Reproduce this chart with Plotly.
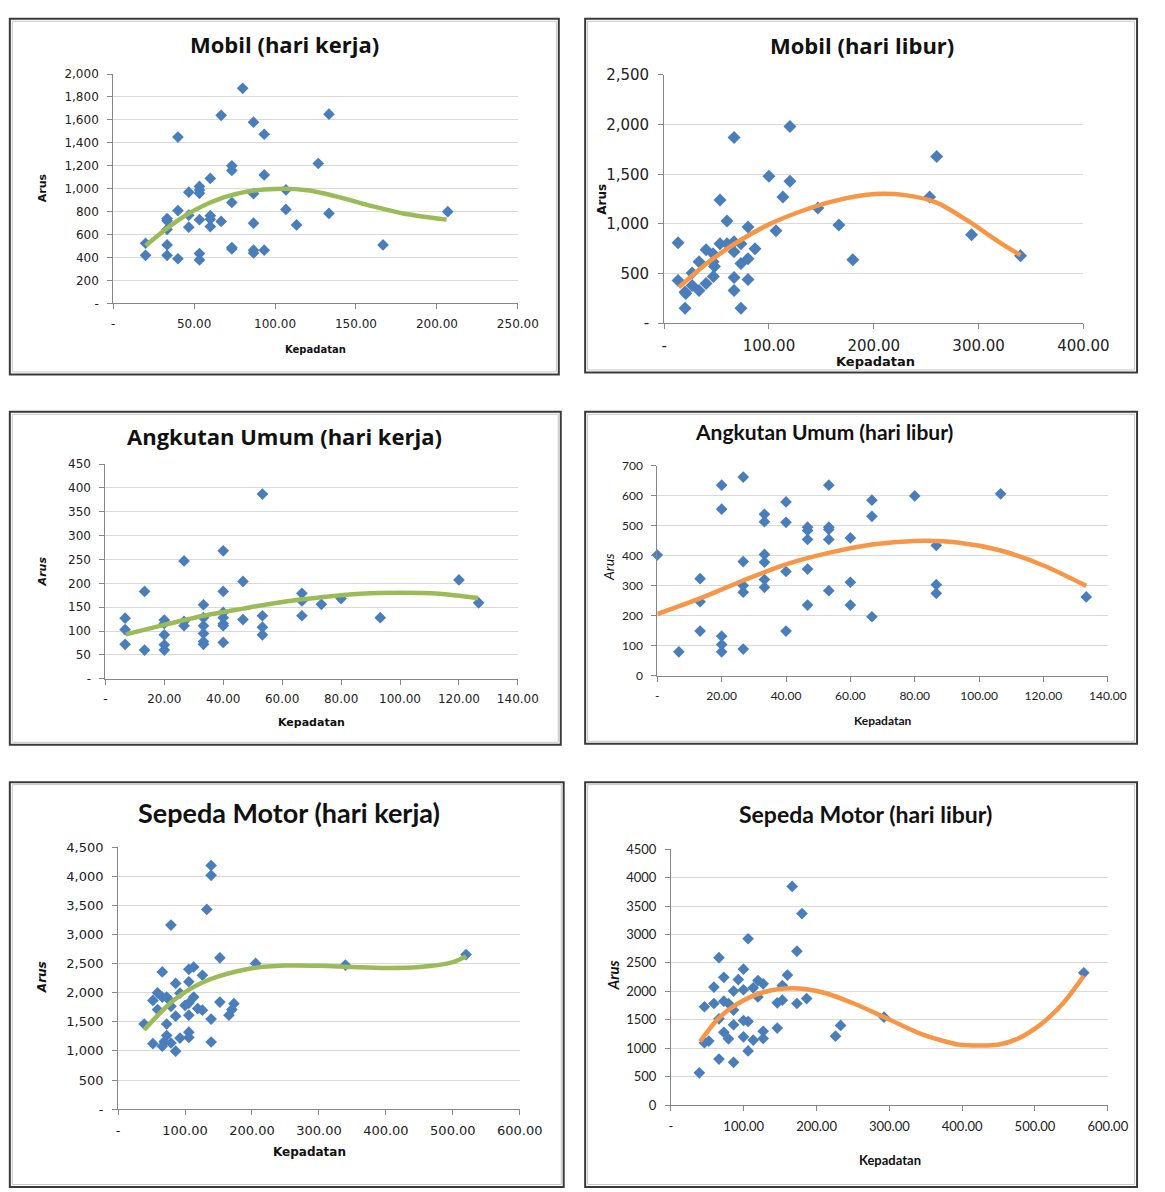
import plotly.graph_objects as go

W, H = 1165, 1192

# ---------------- DATA ----------------
# Panel 1: Mobil (hari kerja)
p1_x = [20, 20, 33.3, 33.3, 33.3, 33.3, 33.3, 40, 40, 40, 46.7, 46.7, 46.7, 53.3, 53.3, 53.3, 53.3, 53.3, 53.3,
        60, 60, 60, 60, 66.7, 66.7, 73.3, 73.3, 73.3, 73.3, 73.3, 80, 86.7, 86.7, 86.7, 86.7, 86.7,
        93.3, 93.3, 93.3, 106.7, 106.7, 113.3, 126.7, 133.3, 133.3, 166.7, 206.7]
p1_y = [525, 420, 740, 720, 645, 510, 420, 1450, 810, 390, 970, 770, 665, 1020, 990, 960, 730, 435, 380,
        1090, 765, 735, 670, 1640, 715, 1200, 1160, 880, 488, 475, 1875, 1580, 957, 700, 465, 440,
        1475, 1120, 465, 990, 820, 685, 1220, 1650, 785, 510, 800]
p1_fit_x = [20, 40, 60, 80, 100, 120, 140, 160, 180, 206]
p1_fit_y = [505, 725, 880, 968, 998, 986, 925, 848, 782, 731]

# Panel 2: Mobil (hari libur)
p2_x = [13.3, 13.3, 20, 20.7, 20, 26.7, 26.7, 33.3, 33.3, 40, 40, 46.7, 46.7, 48, 47, 53.3, 53.3, 60, 60,
        66.7, 66.7, 66.7, 66.7, 66.7, 73.3, 73.3, 73.3, 80, 80, 80, 86.7, 100, 106.7, 113.3, 120, 120,
        146.7, 166.7, 180, 253.3, 260, 293.3, 340]
p2_y = [810, 430, 314, 298, 150, 505, 380, 620, 330, 740, 400, 700, 620, 570, 470, 1240, 800, 1030, 800,
        1870, 820, 720, 460, 330, 800, 600, 150, 970, 650, 440, 750, 1480, 930, 1270, 1980, 1430,
        1160, 990, 640, 1270, 1680, 890, 680]
p2_fit_x = [14, 40, 70, 100, 130, 160, 200, 230, 260, 290, 320, 340]
p2_fit_y = [360, 596, 818, 995, 1125, 1225, 1300, 1290, 1215, 1030, 815, 685]

# Panel 3: Angkutan Umum (hari kerja)
p3_x = [6.7, 6.7, 6.7, 13.3, 13.3, 20, 20, 20, 20, 20, 26.7, 26.7, 26.7, 33.3, 33.3, 33.3, 33.3, 33.3, 33.3,
        40, 40, 40, 40, 40, 40, 40, 46.7, 46.7, 53.3, 53.3, 53.3, 53.3, 66.7, 66.7, 66.7, 73.3, 80, 93.3,
        120, 126.7]
p3_y = [127, 103, 72, 183, 60, 123, 116, 92, 71, 60, 247, 120, 111, 155, 128, 111, 95, 78, 72,
        268, 183, 139, 128, 115, 111, 76, 204, 124, 387, 132, 108, 92, 179, 163, 132, 156, 168, 128,
        207, 159]
p3_fit_x = [6.9, 20, 33.3, 46.7, 60, 73.3, 86.7, 100, 113.3, 126.5]
p3_fit_y = [93, 113, 132, 147, 161, 171, 178, 180, 178, 169]

# Panel 4: Angkutan Umum (hari libur)
p4_x = [0, 6.7, 13.3, 13.3, 13.3, 20, 20, 20, 20, 20, 26.7, 26.7, 26.7, 26.7, 26.7,
        33.3, 33.3, 33.3, 33.3, 33.3, 33.3, 40, 40, 40, 40, 46.7, 46.7, 46.7, 46.7, 46.7,
        53.3, 53.3, 53.3, 53.3, 53.3, 60, 60, 60, 66.7, 66.7, 66.7, 80, 86.7, 86.7, 86.7, 106.7, 133.3]
p4_y = [403, 80, 324, 247, 149, 636, 556, 132, 104, 80, 663, 381, 301, 279, 89,
        539, 514, 405, 379, 321, 295, 580, 512, 348, 149, 496, 485, 455, 356, 236,
        636, 496, 488, 455, 284, 460, 312, 236, 586, 532, 197, 600, 435, 304, 275, 607, 263]
p4_fit_x = [0, 13.3, 26.7, 40, 53.3, 66.7, 80, 93.3, 106.7, 120, 133.3]
p4_fit_y = [206, 258, 318, 372, 410, 438, 450, 445, 418, 368, 300]

# Panel 5: Sepeda Motor (hari kerja)
p5_x = [39, 52, 52, 59, 59, 66, 66, 66, 69, 72.6, 72.6, 72.6, 75.5, 79, 79, 79, 86, 86, 86, 92.5, 92.5,
        100, 105.7, 105.7, 105.7, 105.7, 105.7, 105.7, 113, 113, 119, 126, 126, 132.5, 139, 139, 139, 139,
        152, 152, 165.6, 170, 173, 205.5, 339.5, 519.7]
p5_y = [1462, 1867, 1125, 1997, 1710, 2357, 1924, 1080, 1160, 1924, 1462, 1265, 1884, 3161, 1766, 1136,
        2160, 1597, 995, 1991, 1220, 1783, 2402, 2188, 1822, 1614, 1322, 1232, 2441, 1924, 1727, 2300, 1699,
        3431, 4185, 4016, 1547, 1153, 2599, 1839, 1614, 1710, 1811, 2503, 2475, 2655]
p5_fit_x = [39, 60, 80, 100, 125, 150, 200, 250, 300, 350, 400, 450, 500, 520]
p5_fit_y = [1361, 1620, 1840, 2008, 2170, 2280, 2420, 2465, 2462, 2440, 2424, 2440, 2526, 2627]

# Panel 6: Sepeda Motor (hari libur)
p6_x = [39, 46, 46, 52, 59, 59, 66, 66, 66, 72.6, 72.6, 72.6, 79, 79, 86, 86, 86, 86, 92.5,
        99.6, 99.6, 99.6, 99.6, 106, 106, 106, 113, 113, 119.5, 119.5, 126.7, 126.7, 126.7,
        146, 146, 153, 153, 160, 166.5, 173, 173, 180, 186.4, 226, 233, 292.7, 567]
p6_y = [569, 1730, 1098, 1126, 2075, 1787, 2592, 1517, 810, 2247, 1828, 1282, 1787, 1167, 2006, 1672,
        1414, 753, 2207, 2391, 2029, 1488, 1201, 2925, 1471, 954, 2063, 1144, 2190, 1902, 2132, 1299, 1172,
        1356, 1799, 2103, 1845, 2287, 3845, 2707, 1787, 3368, 1874, 1213, 1402, 1546, 2327]
p6_fit_x = [40, 65, 91.5, 127, 167, 207.6, 252, 297, 341.5, 377, 397, 449, 475, 506.6, 538, 567]
p6_fit_y = [1120, 1523, 1783, 1985, 2054, 1985, 1783, 1523, 1263, 1120, 1061, 1061, 1160, 1407, 1783, 2273]

# Tick labels
p1_xticks = [0, 50, 100, 150, 200, 250]
p1_xtext = ["-", "50.00", "100.00", "150.00", "200.00", "250.00"]
p1_yticks = [0, 200, 400, 600, 800, 1000, 1200, 1400, 1600, 1800, 2000]
p1_ytext = ["-", "200", "400", "600", "800", "1,000", "1,200", "1,400", "1,600", "1,800", "2,000"]

p2_xticks = [0, 100, 200, 300, 400]
p2_xtext = ["-", "100.00", "200.00", "300.00", "400.00"]
p2_yticks = [0, 500, 1000, 1500, 2000, 2500]
p2_ytext = ["-", "500", "1,000", "1,500", "2,000", "2,500"]

p3_xticks = [0, 20, 40, 60, 80, 100, 120, 140]
p3_xtext = ["-", "20.00", "40.00", "60.00", "80.00", "100.00", "120.00", "140.00"]
p3_yticks = [0, 50, 100, 150, 200, 250, 300, 350, 400, 450]
p3_ytext = ["-", "50", "100", "150", "200", "250", "300", "350", "400", "450"]

p4_xticks = [0, 20, 40, 60, 80, 100, 120, 140]
p4_xtext = ["-", "20.00", "40.00", "60.00", "80.00", "100.00", "120.00", "140.00"]
p4_yticks = [0, 100, 200, 300, 400, 500, 600, 700]
p4_ytext = ["0", "100", "200", "300", "400", "500", "600", "700"]

p5_xticks = [0, 100, 200, 300, 400, 500, 600]
p5_xtext = ["-", "100.00", "200.00", "300.00", "400.00", "500.00", "600.00"]
p5_yticks = [0, 500, 1000, 1500, 2000, 2500, 3000, 3500, 4000, 4500]
p5_ytext = ["-", "500", "1,000", "1,500", "2,000", "2,500", "3,000", "3,500", "4,000", "4,500"]

p6_xticks = [0, 100, 200, 300, 400, 500, 600]
p6_xtext = ["-", "100.00", "200.00", "300.00", "400.00", "500.00", "600.00"]
p6_yticks = [0, 500, 1000, 1500, 2000, 2500, 3000, 3500, 4000, 4500]
p6_ytext = ["0", "500", "1000", "1500", "2000", "2500", "3000", "3500", "4000", "4500"]

titles = ["Mobil (hari kerja)", "Mobil (hari libur)", "Angkutan Umum (hari kerja)",
          "Angkutan Umum (hari libur)", "Sepeda Motor (hari kerja)", "Sepeda Motor (hari libur)"]

# ---------------- STYLE ----------------
BLUE = "#4A7EBB"
GREEN = "#9BBB59"
ORANGE = "#F79646"
GRID = "#D9D9D9"
AXIS = "#868686"
VERD = "DejaVu Sans"
CAL = "Lato"
TF_VERD = "Open Sans"

panels = [
    dict(x=p1_x, y=p1_y, fx=p1_fit_x, fy=p1_fit_y, lc=GREEN, px=(113, 528), py=(66, 299),
         xr=[0, 250], xt=p1_xticks, xtt=p1_xtext, yr=[0, 2000], yt=p1_yticks, ytt=p1_ytext,
         tf=dict(family=VERD, size=12, color="#222"), ms=9,
         tpos=(289, 36), tfont=dict(family=TF_VERD, size=22, color="#111"),
         xl=(320, 346), xlf=dict(family=VERD, size=10, color="#111"),
         yl=(40, 182), ylf=dict(family=VERD, size=11, color="#111"), ylab="<b>Arus</b>",
         frame=(7, 10, 570, 371)),
    dict(x=p2_x, y=p2_y, fx=p2_fit_x, fy=p2_fit_y, lc=ORANGE, px=(678, 1108), py=(67, 319),
         xr=[0, 400], xt=p2_xticks, xtt=p2_xtext, yr=[0, 2500], yt=p2_yticks, ytt=p2_ytext,
         tf=dict(family=VERD, size=15, color="#222"), ms=10,
         tpos=(881, 37), tfont=dict(family=TF_VERD, size=22, color="#111"),
         xl=(895, 358), xlf=dict(family=VERD, size=13, color="#111"),
         yl=(614, 193), ylf=dict(family=VERD, size=12, color="#111"), ylab="<b>Arus</b>",
         frame=(597, 10, 1163, 369)),
    dict(x=p3_x, y=p3_y, fx=p3_fit_x, fy=p3_fit_y, lc=GREEN, px=(105, 528), py=(462, 680),
         xr=[0, 140], xt=p3_xticks, xtt=p3_xtext, yr=[0, 450], yt=p3_yticks, ytt=p3_ytext,
         tf=dict(family=VERD, size=12, color="#222"), ms=9,
         tpos=(289, 434), tfont=dict(family=TF_VERD, size=22, color="#111"),
         xl=(316, 724), xlf=dict(family=VERD, size=11, color="#111"),
         yl=(40, 571), ylf=dict(family=VERD, size=11, color="#111"), ylab="<b><i>Arus</i></b>",
         frame=(7, 409, 572, 747)),
    dict(x=p4_x, y=p4_y, fx=p4_fit_x, fy=p4_fit_y, lc=ORANGE, px=(671, 1133), py=(464, 677),
         xr=[0, 140], xt=p4_xticks, xtt=p4_xtext, yr=[0, 700], yt=p4_yticks, ytt=p4_ytext,
         tf=dict(family=CAL, size=12, color="#222"), ms=9,
         tpos=(842, 429), tfont=dict(family=CAL, size=21, color="#111"),
         xl=(902, 722), xlf=dict(family=CAL, size=12, color="#111"),
         yl=(621, 567), ylf=dict(family=CAL, size=14, color="#111"), ylab="<i>Arus</i>",
         frame=(597, 409, 1163, 746)),
    dict(x=p5_x, y=p5_y, fx=p5_fit_x, fy=p5_fit_y, lc=GREEN, px=(118, 530), py=(851, 1117),
         xr=[0, 600], xt=p5_xticks, xtt=p5_xtext, yr=[0, 4500], yt=p5_yticks, ytt=p5_ytext,
         tf=dict(family=VERD, size=13, color="#222"), ms=9,
         tpos=(293, 816), tfont=dict(family=CAL, size=27, color="#111"),
         xl=(314, 1161), xlf=dict(family=VERD, size=12, color="#111"),
         yl=(40, 983), ylf=dict(family=VERD, size=12, color="#111"), ylab="<b><i>Arus</i></b>",
         frame=(7, 785, 575, 1196)),
    dict(x=p6_x, y=p6_y, fx=p6_fit_x, fy=p6_fit_y, lc=ORANGE, px=(685, 1133), py=(853, 1113),
         xr=[0, 600], xt=p6_xticks, xtt=p6_xtext, yr=[0, 4500], yt=p6_yticks, ytt=p6_ytext,
         tf=dict(family=CAL, size=13, color="#222"), ms=9,
         tpos=(885, 817), tfont=dict(family=CAL, size=23, color="#111"),
         xl=(910, 1169), xlf=dict(family=CAL, size=13, color="#111"),
         yl=(626, 981), ylf=dict(family=CAL, size=15, color="#111"), ylab="<b><i>Arus</i></b>",
         frame=(597, 785, 1163, 1196)),
]

fig = go.Figure()
layout = dict(width=W, height=H, margin=dict(l=0, r=0, t=0, b=0),
              paper_bgcolor="white", plot_bgcolor="white", showlegend=False)
shapes = []
annotations = []


def px2x(v):
    return v / W


def px2y(v):
    return 1 - v / H


for i, p in enumerate(panels, start=1):
    sfx = "" if i == 1 else str(i)
    xa, ya = "x" + sfx, "y" + sfx
    fig.add_trace(go.Scatter(x=p["x"], y=p["y"], mode="markers", xaxis=xa, yaxis=ya,
                             marker=dict(symbol="diamond", size=p["ms"], color=BLUE,
                                         line=dict(width=0)),
                             cliponaxis=False, hoverinfo="skip"))
    fig.add_trace(go.Scatter(x=p["fx"], y=p["fy"], mode="lines", xaxis=xa, yaxis=ya,
                             line=dict(color=p["lc"], width=4.5, shape="spline", smoothing=0.8),
                             hoverinfo="skip"))
    layout["xaxis" + sfx] = dict(
        domain=[px2x(p["px"][0]), px2x(p["px"][1])], anchor=ya, range=p["xr"],
        tickmode="array", tickvals=p["xt"], ticktext=p["xtt"], showgrid=False,
        showline=True, linecolor=AXIS, linewidth=1, ticks="outside", ticklen=5,
        tickcolor=AXIS, tickfont=p["tf"], zeroline=False, fixedrange=True,
        ticklabelstandoff=4)
    layout["yaxis" + sfx] = dict(
        domain=[px2y(p["py"][1]), px2y(p["py"][0])], anchor=xa, range=p["yr"],
        tickmode="array", tickvals=p["yt"], ticktext=p["ytt"], showgrid=True,
        gridcolor=GRID, gridwidth=1, showline=True, linecolor=AXIS, linewidth=1,
        ticks="outside", ticklen=5, tickcolor=AXIS, tickfont=p["tf"], zeroline=False,
        fixedrange=True, ticklabelstandoff=6)
    fx0, fy0, fx1, fy1 = p["frame"]
    shapes.append(dict(type="rect", xref="paper", yref="paper",
                       x0=px2x(fx0), x1=px2x(fx1), y0=px2y(fy1), y1=px2y(fy0),
                       line=dict(color="#3A3A3A", width=2), layer="below"))
    shapes.append(dict(type="rect", xref="paper", yref="paper",
                       x0=px2x(fx0 + 2.5), x1=px2x(fx1 - 2.5), y0=px2y(fy1 - 2.5), y1=px2y(fy0 + 2.5),
                       line=dict(color="#C8C8C8", width=1), layer="below"))
    annotations.append(dict(text="<b>" + titles[i - 1] + "</b>", xref="paper", yref="paper",
                            x=px2x(p["tpos"][0]), y=px2y(p["tpos"][1]), xanchor="center",
                            yanchor="middle", showarrow=False, font=p["tfont"]))
    annotations.append(dict(text="<b>Kepadatan</b>", xref="paper", yref="paper",
                            x=px2x(p["xl"][0]), y=px2y(p["xl"][1]), xanchor="center",
                            yanchor="middle", showarrow=False, font=p["xlf"]))
    annotations.append(dict(text=p["ylab"], xref="paper", yref="paper", textangle=-90,
                            x=px2x(p["yl"][0]), y=px2y(p["yl"][1]), xanchor="center",
                            yanchor="middle", showarrow=False, font=p["ylf"]))

layout["shapes"] = shapes
layout["annotations"] = annotations
fig.update_layout(**layout)
fig.write_html("out.html")
